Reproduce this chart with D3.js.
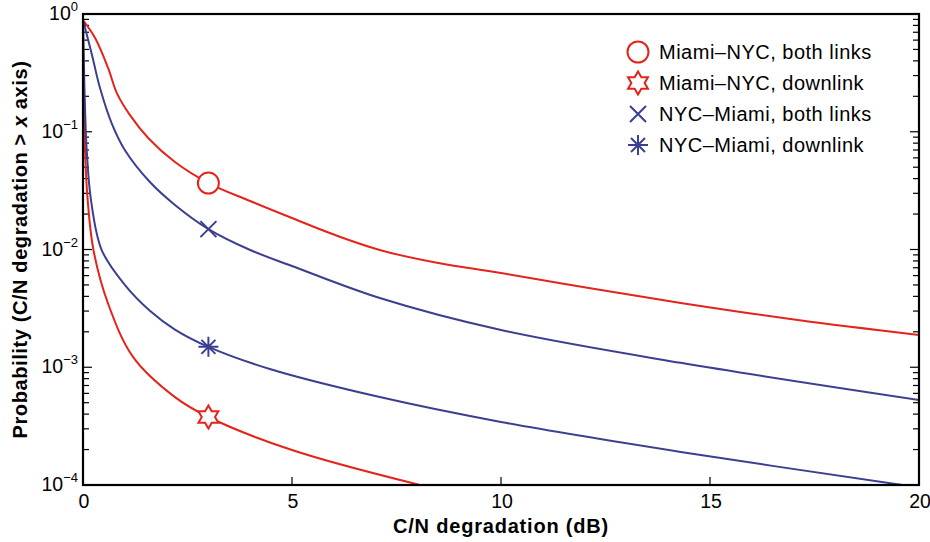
<!DOCTYPE html>
<html>
<head>
<meta charset="utf-8">
<script src="https://cdn.jsdelivr.net/npm/d3@7"></script>
<style>
  body { margin: 0; background: #fff; }
  text { font-family: "Liberation Sans", Arial, Helvetica, sans-serif; }
</style>
</head>
<body>
<svg id="chart"></svg>
<script>
// Chart size
const width = 930, height = 542;
const margin = { top: 14, right: 11, bottom: 57, left: 83 };
const innerW = width - margin.left - margin.right;
const innerH = height - margin.top - margin.bottom;

// Series (x in dB, probability)
const mnBothX = [0, 0.29, 0.6, 0.81, 1.12, 1.56, 2.2, 3, 4, 5, 6, 7.1, 8.5, 10, 12.1, 14.3, 17.1, 20];
const mnBothP = [0.889, 0.625, 0.348, 0.213, 0.139, 0.0885, 0.0553, 0.0367, 0.0258, 0.0185, 0.0134, 0.00991, 0.00767, 0.00631, 0.00471, 0.00352, 0.00252, 0.00188];

const mnDownX = [0, 0.01, 0.03, 0.048, 0.112, 0.25, 0.6, 1.2, 2.2, 3, 5, 8.06];
const mnDownP = [0.889, 0.4, 0.151, 0.07, 0.0263, 0.0099, 0.00347, 0.00122, 0.000558, 0.000378, 0.000198, 0.0001];

const nmBothX = [0, 0.215, 0.407, 0.694, 1.0, 1.6, 2.2, 3, 4, 5, 7.1, 10, 14.3, 20];
const nmBothP = [0.889, 0.449, 0.235, 0.116, 0.07, 0.0374, 0.0239, 0.0149, 0.0099, 0.00724, 0.00387, 0.00207, 0.00109, 0.000527];

const nmDownX = [0, 0.02, 0.05, 0.0885, 0.191, 0.447, 1.0, 1.6, 2.2, 3, 4.47, 7.1, 10, 14.3, 19.6];
const nmDownP = [0.889, 0.4, 0.151, 0.07, 0.0263, 0.0099, 0.00501, 0.00302, 0.00209, 0.00149, 0.000966, 0.000558, 0.000343, 0.000191, 0.0001];

const markerX = 3;
const xTicks = [0, 5, 10, 15, 20];
const yDecades = [0, -1, -2, -3, -4];
const legendLabels = ["Miami\u2013NYC, both links", "Miami\u2013NYC, downlink", "NYC\u2013Miami, both links", "NYC\u2013Miami, downlink"];

const red = "#e4241b", blue = "#3c3f8f";

const series = [
  { x: mnBothX, p: mnBothP, color: red, marker: "circle" },
  { x: mnDownX, p: mnDownP, color: red, marker: "hexagram" },
  { x: nmBothX, p: nmBothP, color: blue, marker: "cross" },
  { x: nmDownX, p: nmDownP, color: blue, marker: "asterisk" }
];

let svg = d3.select("svg#chart")
  .attr("width", width)
  .attr("height", height)
  .style("background", "#fff");

let g = svg.append("g")
  .attr("transform", `translate(${margin.left},${margin.top})`);

let xScale = d3.scaleLinear().domain([0, 20]).range([0, innerW]);
let yScale = d3.scaleLog().domain([1e-4, 1]).range([innerH, 0]);

svg.append("clipPath").attr("id", "plotClip")
  .append("rect").attr("width", innerW).attr("height", innerH);

// Minor and major ticks on left and right sides (pointing inward)
const yMinor = [];
for (let e = -4; e < 0; e++) {
  for (let m = 2; m <= 9; m++) yMinor.push(m * Math.pow(10, e));
}
[0, innerW].forEach((x0, side) => {
  const dir = side === 0 ? 1 : -1;
  g.selectAll(null).data(yMinor).join("line")
    .attr("x1", x0).attr("x2", x0 + dir * 6)
    .attr("y1", d => yScale(d)).attr("y2", d => yScale(d))
    .attr("stroke", "#000").attr("stroke-width", 1.2);
  g.selectAll(null).data(yDecades).join("line")
    .attr("x1", x0).attr("x2", x0 + dir * 9)
    .attr("y1", d => yScale(Math.pow(10, d))).attr("y2", d => yScale(Math.pow(10, d)))
    .attr("stroke", "#000").attr("stroke-width", 1.2);
});

// x ticks (bottom, inside)
g.selectAll(null).data(xTicks).join("line")
  .attr("x1", d => xScale(d)).attr("x2", d => xScale(d))
  .attr("y1", innerH).attr("y2", innerH - 8)
  .attr("stroke", "#000").attr("stroke-width", 1.2);

g.selectAll(null).data(xTicks).join("text")
  .attr("x", d => xScale(d) + 1)
  .attr("y", innerH + 23)
  .attr("text-anchor", "middle")
  .attr("font-size", 19.5)
  .text(d => d);

// y tick labels with superscripts
const yLab = g.selectAll(null).data(yDecades).join("text")
  .attr("x", -5)
  .attr("y", d => yScale(Math.pow(10, d)) + 6)
  .attr("text-anchor", "end")
  .attr("font-size", 19.5);
yLab.append("tspan").text("10");
yLab.append("tspan")
  .attr("font-size", 13)
  .attr("dy", -9)
  .text(d => d === 0 ? "0" : "\u2212" + (-d));

// Curves
const line = d3.line()
  .x(d => xScale(d[0]))
  .y(d => yScale(d[1]))
  .curve(d3.curveCatmullRom.alpha(0.5));

let linesG = g.append("g").attr("clip-path", "url(#plotClip)");
series.forEach(s => {
  const pts = s.x.map((x, i) => [x, s.p[i]]);
  linesG.append("path")
    .datum(pts)
    .attr("d", line)
    .attr("fill", "none")
    .attr("stroke", s.color)
    .attr("stroke-width", 2);
});

// Marker shapes
function hexagramPath(R) {
  const r = R / Math.sqrt(3);
  const pts = [];
  for (let i = 0; i < 12; i++) {
    const a = -Math.PI / 2 + i * Math.PI / 6;
    const rad = i % 2 === 0 ? R : r;
    pts.push([rad * Math.cos(a), rad * Math.sin(a)]);
  }
  return "M" + pts.map(p => p.join(",")).join("L") + "Z";
}

function drawMarker(parent, type, color, cx, cy) {
  const m = parent.append("g").attr("transform", `translate(${cx},${cy})`);
  if (type === "circle") {
    m.append("circle").attr("r", 10.5)
      .attr("fill", "#fff").attr("stroke", color).attr("stroke-width", 2);
  } else if (type === "hexagram") {
    m.append("path").attr("d", hexagramPath(11.5))
      .attr("fill", "#fff").attr("stroke", color).attr("stroke-width", 2);
  } else if (type === "cross") {
    m.append("path").attr("d", "M-8,-8L8,8M-8,8L8,-8")
      .attr("stroke", color).attr("stroke-width", 2);
  } else {
    const a = 10, b = 7;
    m.append("path").attr("d", `M0,${-a}L0,${a}M${-a},0L${a},0M${-b},${-b}L${b},${b}M${-b},${b}L${b},${-b}`)
      .attr("stroke", color).attr("stroke-width", 2);
  }
}

// Markers on each curve at x = 3 dB
series.forEach(s => {
  const i = s.x.indexOf(markerX);
  drawMarker(g, s.marker, s.color, xScale(markerX), yScale(s.p[i]));
});

// Frame
g.append("rect")
  .attr("width", innerW).attr("height", innerH)
  .attr("fill", "none").attr("stroke", "#000").attr("stroke-width", 2.2);

// Axis titles
svg.append("text")
  .attr("x", margin.left + innerW / 2)
  .attr("y", 533)
  .attr("text-anchor", "middle")
  .attr("font-size", 20)
  .attr("letter-spacing", 0.8)
  .attr("font-weight", "bold")
  .text("C/N degradation (dB)");

const yTitle = svg.append("text")
  .attr("transform", `translate(27,${margin.top + innerH / 2}) rotate(-90)`)
  .attr("text-anchor", "middle")
  .attr("font-size", 20)
  .attr("letter-spacing", 0.6)
  .attr("font-weight", "bold");
yTitle.append("tspan").text("Probability (C/N degradation > ");
yTitle.append("tspan").attr("font-style", "italic").text("x");
yTitle.append("tspan").text(" axis)");

// Legend
let legendG = svg.append("g");
series.forEach((s, i) => {
  const cy = 52 + i * 31;
  drawMarker(legendG, s.marker, s.color, 638, cy);
  legendG.append("text")
    .attr("x", 659)
    .attr("y", cy + 7)
    .attr("font-size", 20)
    .attr("letter-spacing", 0.5)
    .text(legendLabels[i]);
});
</script>
</body>
</html>
